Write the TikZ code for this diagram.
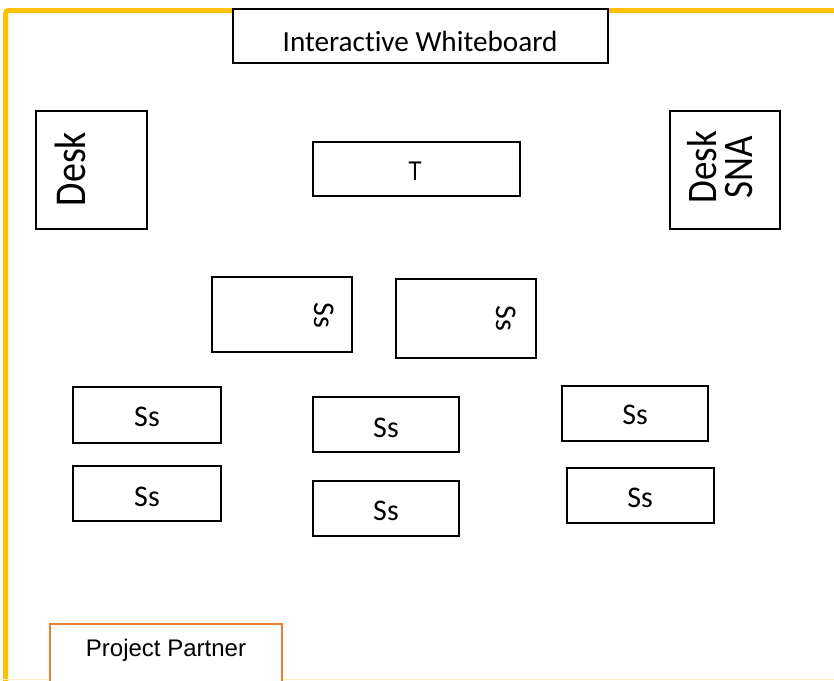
\documentclass[tikz,border=0pt]{standalone}
\usepackage{fontspec}
\setmainfont{Carlito}[Ligatures={NoCommon}]
\newfontfamily\arialfont{Liberation Sans}
\definecolor{bordery}{HTML}{FFC000}
\definecolor{ppor}{HTML}{ED7D31}
\definecolor{faint}{HTML}{FFF0C4}
\newcommand\sbx[3]{\scalebox{#1}[#2]{\fontsize{10}{12}\selectfont #3}}
\begin{document}
\begin{tikzpicture}[x=1pt,y=-1pt,
  box/.style={draw=black, line width=1.6pt, fill=white, inner sep=0pt},
  lbl/.style={inner sep=0pt, anchor=center}]
\useasboundingbox (0,0) rectangle (834,680);
\clip (0,0) rectangle (834,680);
\fill[white] (0,0) rectangle (834,680);
\draw[bordery, line width=5pt, rounded corners=3pt] (5.5,700) -- (5.5,10.5) -- (850,10.5);
\draw[faint, line width=1.2pt] (0,679.4) -- (834,679.4);

% boxes
\node[box, minimum width=375pt, minimum height=54pt] (wb) at (420.5,36) {};
\node[box, minimum width=111pt, minimum height=118pt] (deskL) at (91.5,170) {};
\node[box, minimum width=110pt, minimum height=118pt] (deskR) at (725,170) {};
\node[box, minimum width=207pt, minimum height=54pt] (tch) at (416.5,169) {};
\node[box, minimum width=140pt, minimum height=75pt] (su1) at (282,314.5) {};
\node[box, minimum width=140pt, minimum height=79pt] (su2) at (466,318.5) {};
\node[box, minimum width=148pt, minimum height=56pt] (l1) at (147,415) {};
\node[box, minimum width=148pt, minimum height=55pt] (l2) at (147,493.5) {};
\node[box, minimum width=146pt, minimum height=55pt] (m1) at (386,424.5) {};
\node[box, minimum width=146pt, minimum height=55pt] (m2) at (386,508.5) {};
\node[box, minimum width=146pt, minimum height=55pt] (r1) at (635,413.5) {};
\node[box, minimum width=147pt, minimum height=55pt] (r2) at (640.5,495.5) {};
\node[draw=ppor, line width=2pt, fill=white, inner sep=0pt, minimum width=232pt, minimum height=80pt] (pp) at (166,664) {};

% labels
\node[lbl] (twb) at (420,41) {\sbx{2.92}{2.92}{Interactive Whiteboard}};
\node[lbl, rotate=90] (tdl) at (70,169) {\sbx{3.8}{4.4}{Desk}};
\node[lbl, rotate=90] (tdr) at (724,167) {\sbx{3.7}{4.2}{\begin{tabular}{@{}c@{}}Desk\\[-3.4pt]SNA\end{tabular}}};
\node[lbl] (tt) at (415,171) {\arialfont\scalebox{2.2}[2.7]{\fontsize{10}{12}\selectfont T}};
\node[lbl, rotate=-90] (ts1) at (324,315) {\sbx{3.0}{3.0}{Ss}};
\node[lbl, rotate=-90] (ts2) at (506,318) {\sbx{3.0}{3.0}{Ss}};
\node[lbl] (tl1) at (147,417) {\sbx{3.0}{3.0}{Ss}};
\node[lbl] (tl2) at (147,497) {\sbx{3.0}{3.0}{Ss}};
\node[lbl] (tm1) at (386,428) {\sbx{3.0}{3.0}{Ss}};
\node[lbl] (tm2) at (386,511) {\sbx{3.0}{3.0}{Ss}};
\node[lbl] (tr1) at (635,415) {\sbx{3.0}{3.0}{Ss}};
\node[lbl] (tr2) at (640,498) {\sbx{3.0}{3.0}{Ss}};
\node[lbl] (tpp) at (166,650) {\arialfont\fontsize{24}{28}\selectfont Project Partner};
\end{tikzpicture}
\end{document}
